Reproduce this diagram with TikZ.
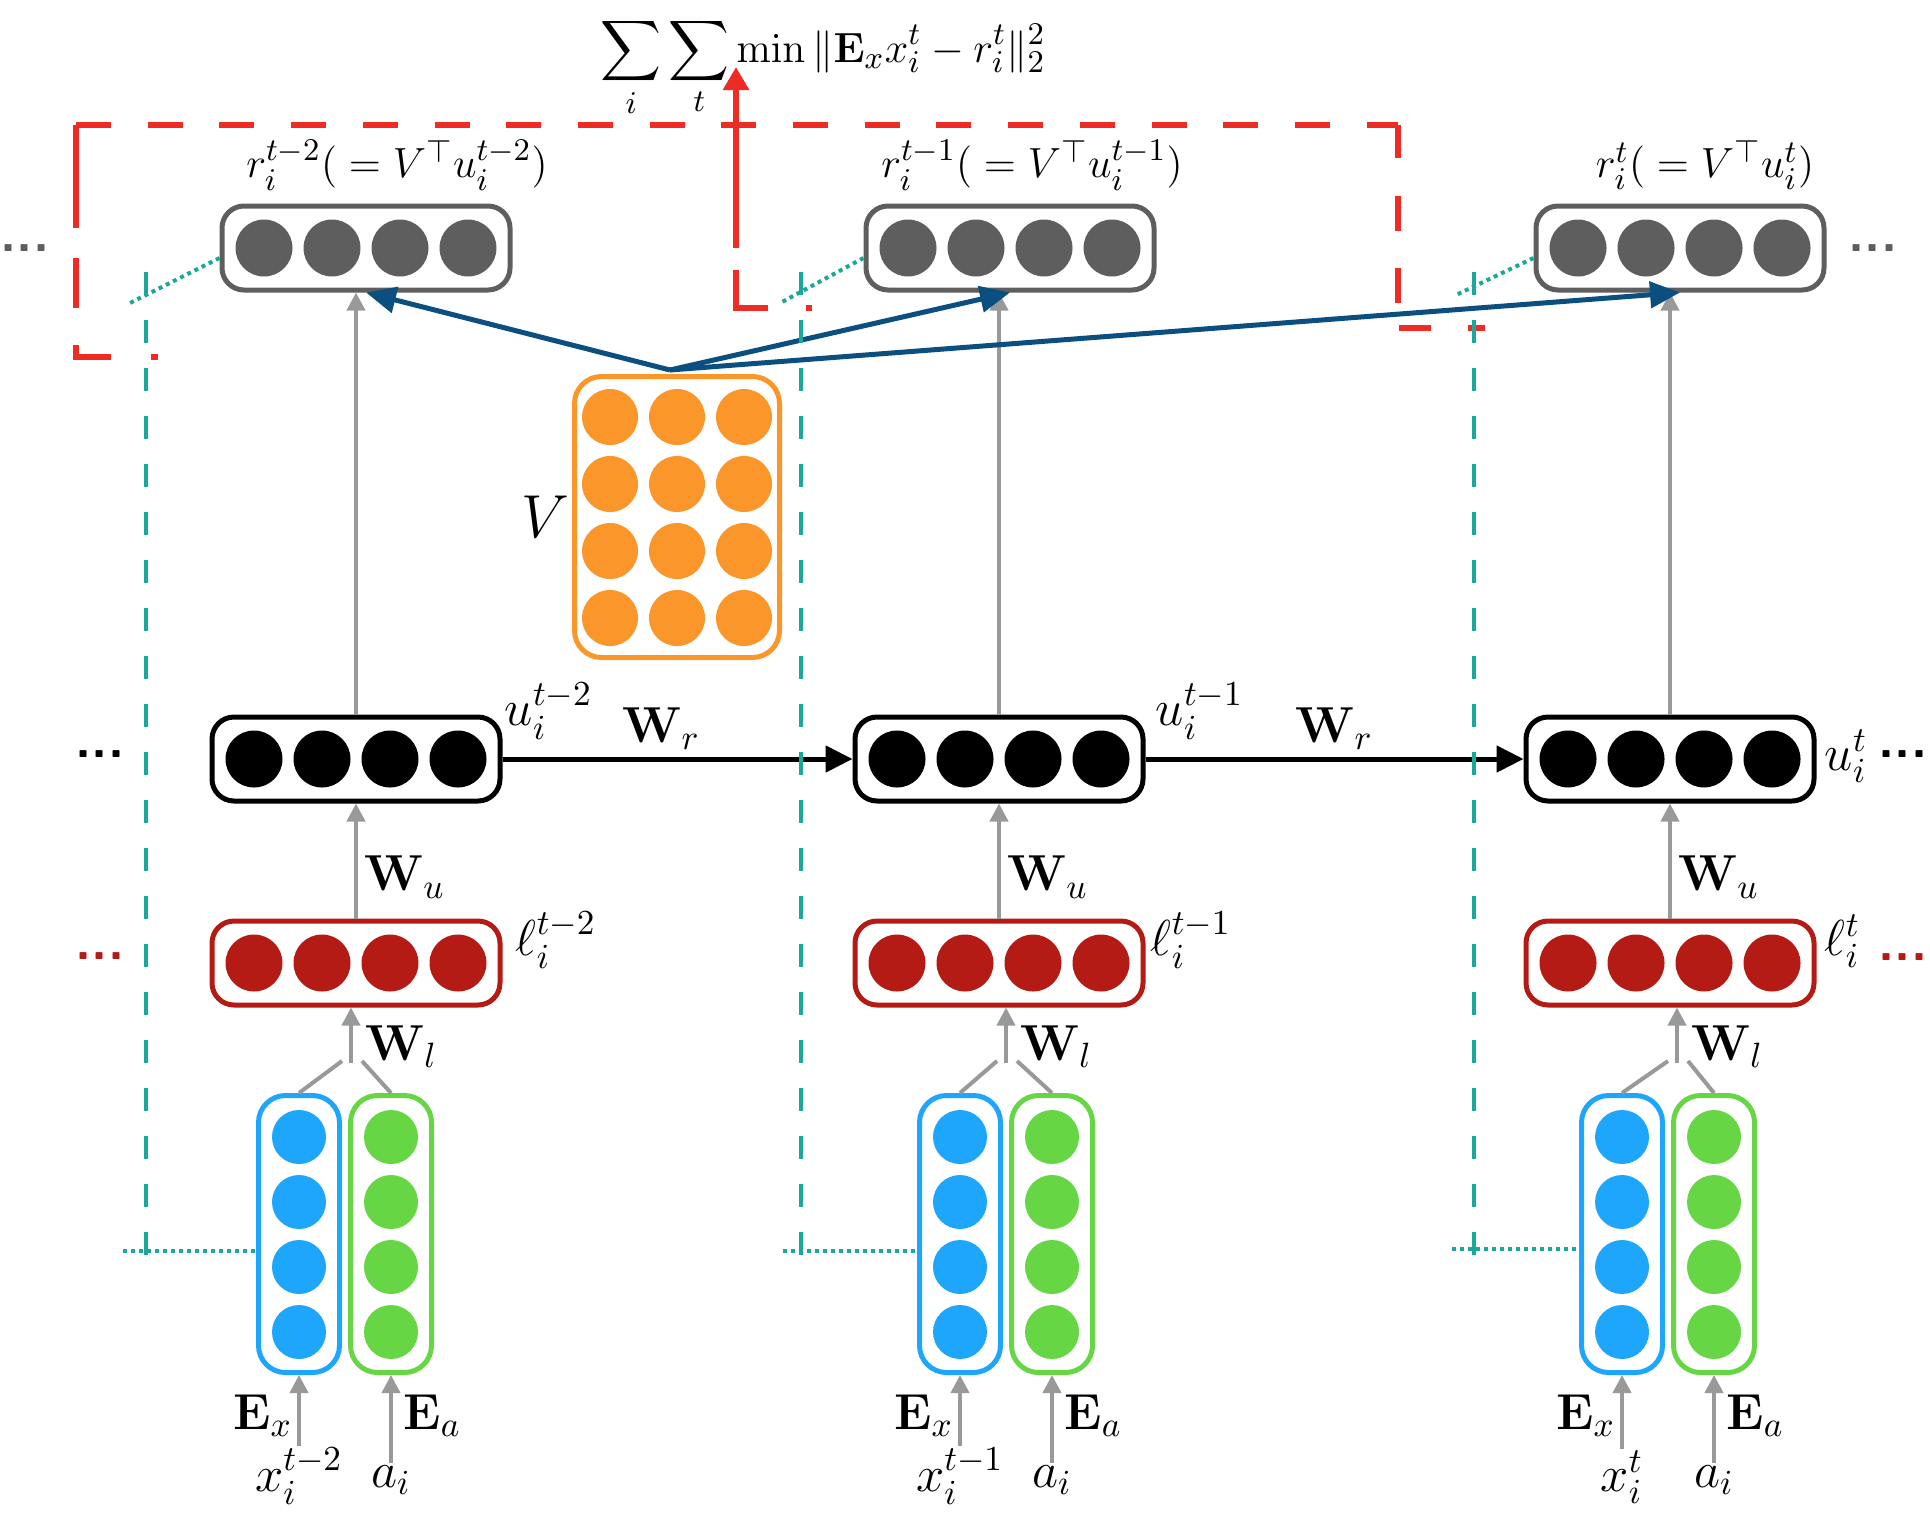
\documentclass[tikz,border=0pt]{standalone}
\usepackage{amsmath}
\usepackage{tikz}
\usetikzlibrary{arrows.meta, positioning, calc}
\definecolor{RNgray}{HTML}{5E5E5E}
\definecolor{RNred}{HTML}{B31B14}
\definecolor{RNblue}{HTML}{1EA5FC}
\definecolor{RNgreen}{HTML}{66D645}
\definecolor{RNorange}{HTML}{FA962A}
\definecolor{RNnavy}{HTML}{0B4F80}
\definecolor{RNteal}{HTML}{1AA89A}
\definecolor{RNloss}{HTML}{EE2B24}
\definecolor{RNarrow}{HTML}{999999}
\tikzset{
  vecbox/.style={
    rectangle, rounded corners=2.2mm, line width=0.5mm, fill=white,
    minimum width=28.8mm, minimum height=8.4mm, inner sep=0pt},
  rvec/.style={vecbox, draw=RNgray},
  uvec/.style={vecbox, draw=black},
  lvec/.style={vecbox, draw=RNred},
  colbox/.style={
    rectangle, rounded corners=2.7mm, line width=0.5mm, fill=white,
    minimum width=8.1mm, minimum height=27.7mm, inner sep=0pt},
  xvec/.style={colbox, draw=RNblue},
  avec/.style={colbox, draw=RNgreen},
  vmat/.style={colbox, draw=RNorange, minimum width=20.5mm, minimum height=28.1mm},
  lbl/.style={font=\fontsize{14}{16}\selectfont, inner sep=0.5pt},
  rlbl/.style={lbl, font=\fontsize{13}{15}\selectfont},
  dotsl/.style={font=\fontsize{15}{18}\selectfont\sffamily\bfseries, inner sep=0pt},
  grayarr/.style={-{Triangle[length=1.8mm,width=1.8mm]}, line width=0.4mm, draw=RNarrow},
  grayln/.style={line width=0.4mm, draw=RNarrow},
  recarr/.style={-{Triangle[length=2.7mm,width=2.6mm]}, line width=0.5mm, draw=black},
  projarr/.style={-{Triangle[length=3mm,width=2.6mm]}, line width=0.5mm, draw=RNnavy},
  losspath/.style={line width=0.6mm, draw=RNloss},
  tealdash/.style={line width=0.4mm, draw=RNteal, dash pattern=on 2.3mm off 2.5mm},
  tealdot/.style={line width=0.4mm, draw=RNteal, dash pattern=on 0.4mm off 0.4mm},
}

\begin{document}
\begin{tikzpicture}[x=0.1mm, y=-0.1mm]
  \useasboundingbox (0,0) rectangle (1930,1514);
  %% Reconstructions r
  \node[rvec] (r1) at (366,248) {};
  \node[rvec] (r2) at (1010,248) {};
  \node[rvec] (r3) at (1680,248) {};
  %% Hidden states u
  \node[uvec] (u1) at (356,759) {};
  \node[uvec] (u2) at (999,759) {};
  \node[uvec] (u3) at (1670,759) {};
  %% Layer l
  \node[lvec] (l1) at (356,963) {};
  \node[lvec] (l2) at (999,963) {};
  \node[lvec] (l3) at (1670,963) {};
  %% Inputs x and a
  \node[xvec] (x1) at (299,1234) {};
  \node[avec] (a1) at (391,1234) {};
  \node[xvec] (x2) at (960,1234) {};
  \node[avec] (a2) at (1052,1234) {};
  \node[xvec] (x3) at (1622,1234) {};
  \node[avec] (a3) at (1714,1234) {};
  %% Matrix V
  \node[vmat] (V) at (677,517) {};

  %% Units
  \foreach \nd/\cl in {r1/RNgray, r2/RNgray, r3/RNgray, u1/black, u2/black, u3/black,
                       l1/RNred, l2/RNred, l3/RNred}
    \foreach \k in {-102,-34,34,102}
      \fill[\cl] ($(\nd)+(\k,0)$) circle (2.85mm);
  \foreach \nd/\cl in {x1/RNblue, x2/RNblue, x3/RNblue, a1/RNgreen, a2/RNgreen, a3/RNgreen}
    \foreach \k in {-97,-32,33,98}
      \fill[\cl] ($(\nd)+(0,\k)$) circle (2.7mm);
  \foreach \i in {-67,0,67}
    \foreach \j in {-100,-33,34,101}
      \fill[RNorange] ($(V)+(\i,\j)$) circle (2.8mm);

  %% Labels
  \node[rlbl, anchor=base] (rl1) at ($(r1.north)+(31,-26)$) {$r_i^{t-2}({}=V^{\top}u_i^{t-2})$};
  \node[rlbl, anchor=base] (rl2) at ($(r2.north)+(22,-26)$) {$r_i^{t-1}({}=V^{\top}u_i^{t-1})$};
  \node[rlbl, anchor=base] (rl3) at ($(r3.north)+(25,-26)$) {$r_i^{t}({}=V^{\top}u_i^{t})$};
  \node[lbl, anchor=base west] (ul1) at ($(u1.north east)+(0,11)$) {$u_i^{t-2}$};
  \node[lbl, anchor=base west] (ul2) at ($(u2.north east)+(8,11)$) {$u_i^{t-1}$};
  \node[lbl, anchor=base west] (ul3) at ($(u3.east)+(6,11)$) {$u_i^{t}$};
  \node[lbl, anchor=base west] (ll1) at ($(l1.east)+(11,-8)$) {$\ell_i^{t-2}$};
  \node[lbl, anchor=base west] (ll2) at ($(l2.east)+(3,-8)$) {$\ell_i^{t-1}$};
  \node[lbl, anchor=base west] (ll3) at ($(l3.east)+(6,-8)$) {$\ell_i^{t}$};
  \node[lbl, anchor=east, font=\fontsize{19}{22}\selectfont] (Vl) at (V.west) {$V$};
  \node[lbl, anchor=base west, inner sep=0pt, font=\fontsize{13}{15}\selectfont] (loss) at (600,62)
        {$\displaystyle\sum_i\sum_t \min\|\mathbf{E}_x x_i^t - r_i^t\|_2^2$};
  \coordinate (losstip) at (736,67);

  %% Input labels
  \foreach \n/\xs in {1/{t-2}, 2/{t-1}, 3/{t}} {
    \node[lbl, anchor=base] (xin\n) at ($(x\n.south)+(0,116)$) {$x_i^{\xs}$};
    \node[lbl, anchor=base] (ain\n) at ($(a\n.south)+(0,112)$) {$a_i$};
    \node[lbl, anchor=base east] (Ex\n) at ($(x\n.south)+(-4,54)$) {$\mathbf{E}_x$};
    \node[lbl, anchor=base west] (Ea\n) at ($(a\n.south)+(10,54)$) {$\mathbf{E}_a$};
    \draw[grayarr] (xin\n.north) -- (x\n.south);
    \draw[grayarr] (ain\n.north) -- (a\n.south);
  }

  %% Joints into l
  \coordinate (j1) at (351,1063);
  \coordinate (j2) at (1006,1063);
  \coordinate (j3) at (1677,1063);
  \foreach \n in {1,2,3} {
    \draw[grayln] (x\n.north) -- ($(j\n)+(-9,-2)$);
    \draw[grayln] (a\n.north) -- ($(j\n)+(11,-2)$);
    \draw[grayarr] (j\n) -- (j\n |- l\n.south);
    \node[lbl, anchor=base west] (Wl\n) at ($(j\n)+(12,-3)$) {$\mathbf{W}_l$};
    \draw[grayarr] (l\n.north) -- (u\n.south);
    \node[lbl, anchor=base west] (Wu\n) at ($(u\n.south)+(6,87)$) {$\mathbf{W}_u$};
    \draw[grayarr] (u\n.north) -- (u\n.north |- r\n.south);
  }

  %% Recurrence
  \draw[recarr] (u1) -- (u2) node[lbl, midway, anchor=base, yshift=1.7mm, xshift=-1.6mm] (Wr1) {$\mathbf{W}_r$};
  \draw[recarr] (u2) -- (u3) node[lbl, midway, anchor=base, yshift=1.7mm] (Wr2) {$\mathbf{W}_r$};

  %% Projection by V
  \coordinate (vtop) at ($(V.north)+(-7,-4)$);
  \draw[projarr] (vtop) -- (r1.south);
  \draw[projarr] (vtop) -- (r2.south);
  \draw[projarr] (vtop) -- (r3.south);

  %% Loss brackets
  \draw[losspath, dash pattern=on 3.5mm off 3.67mm] (76,125) -- (1398,125);
  \draw[losspath, dash pattern=on 10.3mm off 3mm on 5mm off 3.7mm on 4.7mm off 4mm on 0.7mm off 10mm]
        (76,125) -- (76,357) -- (158,357);
  \draw[losspath, dash pattern=on 3.3mm off 3.8mm on 3.5mm off 3.7mm on 3.5mm off 2.6mm on 3.2mm off 3.7mm on 1.8mm off 5mm]
        (1398,125) -- (1398,328) -- (1485,328);
  \draw[losspath, -{Triangle[length=2.3mm,width=2.5mm]}, dash pattern=on 0.6mm off 3.8mm on 7mm off 2.2mm on 30mm]
        (812,308) -- (736,308) -- (losstip);

  %% Teal guides
  \coordinate (t1top) at (130,303);
  \coordinate (t2top) at (782,302);
  \coordinate (t3top) at (1456,295);
  \coordinate (t1bot) at (123,1251);
  \coordinate (t2bot) at (783,1251);
  \coordinate (t3bot) at (1452,1249);
  \draw[tealdash] (146,272) -- (146,1258);
  \draw[tealdash] (801,272) -- (801,1258);
  \draw[tealdash] (1474,272) -- (1474,1258);
  \foreach \n in {1,2,3} {
    \draw[tealdot] ($(r\n.west)+(0,10)$) -- (t\n top);
    \draw[tealdot] (t\n bot) -- (t\n bot -| x\n.west);
  }

  %% Ellipses
  \node[dotsl, text=RNgray] (dr0) at (25,248) {...};
  \node[dotsl, text=RNgray] (dr4) at (1873,248) {...};
  \node[dotsl] (du0) at (100,754) {...};
  \node[dotsl] (du4) at (1903,754) {...};
  \node[dotsl, text=RNred] (dl0) at (100,956) {...};
  \node[dotsl, text=RNred] (dl4) at (1903,957) {...};
\end{tikzpicture}
\end{document}
